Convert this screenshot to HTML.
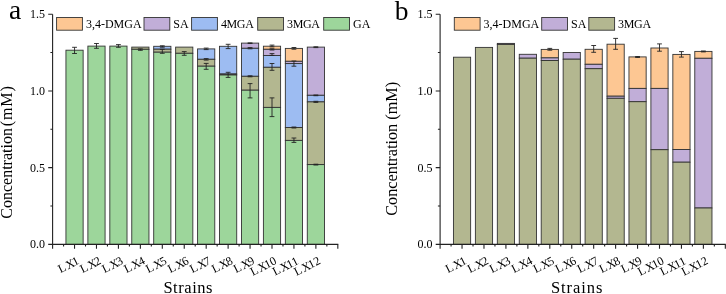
<!DOCTYPE html>
<html><head><meta charset="utf-8"><style>
html,body{margin:0;padding:0;background:#fff;}
body{width:726px;height:294px;overflow:hidden;}
svg{display:block;will-change:transform;}
text{font-family:"Liberation Serif",serif;fill:#000;}
</style></head><body>
<svg width="726" height="294" viewBox="0 0 726 294">
<rect x="65.94" y="50.20" width="17.20" height="194.20" fill="#9dd69b" stroke="#333333" stroke-width="0.9"/>
<path d="M72.14 47.30H76.94M74.54 47.30V53.50M72.14 53.50H76.94" stroke="#222" stroke-width="0.9" fill="none"/>
<rect x="87.88" y="46.10" width="17.20" height="198.30" fill="#9dd69b" stroke="#333333" stroke-width="0.9"/>
<path d="M94.08 43.50H98.88M96.48 43.50V48.30M94.08 48.30H98.88" stroke="#222" stroke-width="0.9" fill="none"/>
<rect x="109.82" y="46.10" width="17.20" height="198.30" fill="#9dd69b" stroke="#333333" stroke-width="0.9"/>
<path d="M116.02 44.60H120.82M118.42 44.60V47.30M116.02 47.30H120.82" stroke="#222" stroke-width="0.9" fill="none"/>
<rect x="131.76" y="47.10" width="17.20" height="2.20" fill="#b3b790" stroke="#333333" stroke-width="0.9"/>
<rect x="131.76" y="49.30" width="17.20" height="195.10" fill="#9dd69b" stroke="#333333" stroke-width="0.9"/>
<path d="M137.96 48.90H142.76M140.36 48.90V50.30M137.96 50.30H142.76" stroke="#222" stroke-width="0.9" fill="none"/>
<rect x="153.70" y="46.30" width="17.20" height="2.90" fill="#9dbcf2" stroke="#333333" stroke-width="0.9"/>
<rect x="153.70" y="49.20" width="17.20" height="3.00" fill="#b3b790" stroke="#333333" stroke-width="0.9"/>
<rect x="153.70" y="52.20" width="17.20" height="192.20" fill="#9dd69b" stroke="#333333" stroke-width="0.9"/>
<path d="M159.90 45.80H164.70M162.30 45.80V47.20M159.90 47.20H164.70" stroke="#222" stroke-width="0.9" fill="none"/>
<path d="M159.90 49.30H164.70M162.30 49.30V53.30M159.90 53.30H164.70" stroke="#222" stroke-width="0.9" fill="none"/>
<rect x="175.64" y="47.10" width="17.20" height="6.20" fill="#b3b790" stroke="#333333" stroke-width="0.9"/>
<rect x="175.64" y="53.30" width="17.20" height="191.10" fill="#9dd69b" stroke="#333333" stroke-width="0.9"/>
<path d="M181.84 51.60H186.64M184.24 51.60V55.30M181.84 55.30H186.64" stroke="#222" stroke-width="0.9" fill="none"/>
<rect x="197.58" y="48.90" width="17.20" height="10.40" fill="#9dbcf2" stroke="#333333" stroke-width="0.9"/>
<rect x="197.58" y="59.30" width="17.20" height="6.90" fill="#b3b790" stroke="#333333" stroke-width="0.9"/>
<rect x="197.58" y="66.20" width="17.20" height="178.20" fill="#9dd69b" stroke="#333333" stroke-width="0.9"/>
<path d="M203.78 48.10H208.58M206.18 48.10V49.60M203.78 49.60H208.58" stroke="#222" stroke-width="0.9" fill="none"/>
<path d="M203.78 58.60H208.58M206.18 58.60V60.10M203.78 60.10H208.58" stroke="#222" stroke-width="0.9" fill="none"/>
<path d="M203.78 63.40H208.58M206.18 63.40V69.30M203.78 69.30H208.58" stroke="#222" stroke-width="0.9" fill="none"/>
<rect x="219.52" y="46.30" width="17.20" height="27.70" fill="#9dbcf2" stroke="#333333" stroke-width="0.9"/>
<rect x="219.52" y="74.00" width="17.20" height="1.00" fill="#b3b790" stroke="#333333" stroke-width="0.9"/>
<rect x="219.52" y="75.00" width="17.20" height="169.40" fill="#9dd69b" stroke="#333333" stroke-width="0.9"/>
<path d="M225.72 44.30H230.52M228.12 44.30V48.60M225.72 48.60H230.52" stroke="#222" stroke-width="0.9" fill="none"/>
<path d="M225.72 72.30H230.52M228.12 72.30V77.40M225.72 77.40H230.52" stroke="#222" stroke-width="0.9" fill="none"/>
<rect x="241.46" y="43.10" width="17.20" height="5.20" fill="#c1aed8" stroke="#333333" stroke-width="0.9"/>
<rect x="241.46" y="48.30" width="17.20" height="28.00" fill="#9dbcf2" stroke="#333333" stroke-width="0.9"/>
<rect x="241.46" y="76.30" width="17.20" height="13.90" fill="#b3b790" stroke="#333333" stroke-width="0.9"/>
<rect x="241.46" y="90.20" width="17.20" height="154.20" fill="#9dd69b" stroke="#333333" stroke-width="0.9"/>
<path d="M247.66 42.90H252.46M250.06 42.90V43.50M247.66 43.50H252.46" stroke="#222" stroke-width="0.9" fill="none"/>
<path d="M247.66 47.60H252.46M250.06 47.60V48.80M247.66 48.80H252.46" stroke="#222" stroke-width="0.9" fill="none"/>
<path d="M247.66 75.80H252.46M250.06 75.80V76.80M247.66 76.80H252.46" stroke="#222" stroke-width="0.9" fill="none"/>
<path d="M247.66 83.60H252.46M250.06 83.60V97.90M247.66 97.90H252.46" stroke="#222" stroke-width="0.9" fill="none"/>
<rect x="263.40" y="46.20" width="17.20" height="3.10" fill="#fdc793" stroke="#333333" stroke-width="0.9"/>
<rect x="263.40" y="49.30" width="17.20" height="6.20" fill="#c1aed8" stroke="#333333" stroke-width="0.9"/>
<rect x="263.40" y="55.50" width="17.20" height="11.80" fill="#9dbcf2" stroke="#333333" stroke-width="0.9"/>
<rect x="263.40" y="67.30" width="17.20" height="40.10" fill="#b3b790" stroke="#333333" stroke-width="0.9"/>
<rect x="263.40" y="107.40" width="17.20" height="137.00" fill="#9dd69b" stroke="#333333" stroke-width="0.9"/>
<path d="M269.60 45.10H274.40M272.00 45.10V46.90M269.60 46.90H274.40" stroke="#222" stroke-width="0.9" fill="none"/>
<path d="M269.60 48.80H274.40M272.00 48.80V50.00M269.60 50.00H274.40" stroke="#222" stroke-width="0.9" fill="none"/>
<path d="M269.60 53.60H274.40M272.00 53.60V55.40M269.60 55.40H274.40" stroke="#222" stroke-width="0.9" fill="none"/>
<path d="M269.60 63.50H274.40M272.00 63.50V70.30M269.60 70.30H274.40" stroke="#222" stroke-width="0.9" fill="none"/>
<path d="M269.60 97.90H274.40M272.00 97.90V116.60M269.60 116.60H274.40" stroke="#222" stroke-width="0.9" fill="none"/>
<rect x="285.34" y="48.40" width="17.20" height="12.90" fill="#fdc793" stroke="#333333" stroke-width="0.9"/>
<rect x="285.34" y="61.30" width="17.20" height="2.30" fill="#c1aed8" stroke="#333333" stroke-width="0.9"/>
<rect x="285.34" y="63.60" width="17.20" height="63.90" fill="#9dbcf2" stroke="#333333" stroke-width="0.9"/>
<rect x="285.34" y="127.50" width="17.20" height="12.90" fill="#b3b790" stroke="#333333" stroke-width="0.9"/>
<rect x="285.34" y="140.40" width="17.20" height="104.00" fill="#9dd69b" stroke="#333333" stroke-width="0.9"/>
<path d="M291.54 47.50H296.34M293.94 47.50V49.20M291.54 49.20H296.34" stroke="#222" stroke-width="0.9" fill="none"/>
<path d="M291.54 61.00H296.34M293.94 61.00V66.20M291.54 66.20H296.34" stroke="#222" stroke-width="0.9" fill="none"/>
<path d="M291.54 127.00H296.34M293.94 127.00V128.00M291.54 128.00H296.34" stroke="#222" stroke-width="0.9" fill="none"/>
<path d="M291.54 138.00H296.34M293.94 138.00V142.40M291.54 142.40H296.34" stroke="#222" stroke-width="0.9" fill="none"/>
<rect x="307.28" y="47.10" width="17.20" height="48.20" fill="#c1aed8" stroke="#333333" stroke-width="0.9"/>
<rect x="307.28" y="95.30" width="17.20" height="6.60" fill="#9dbcf2" stroke="#333333" stroke-width="0.9"/>
<rect x="307.28" y="101.90" width="17.20" height="62.70" fill="#b3b790" stroke="#333333" stroke-width="0.9"/>
<rect x="307.28" y="164.60" width="17.20" height="79.80" fill="#9dd69b" stroke="#333333" stroke-width="0.9"/>
<path d="M313.48 46.80H318.28M315.88 46.80V47.60M313.48 47.60H318.28" stroke="#222" stroke-width="0.9" fill="none"/>
<path d="M313.48 95.00H318.28M315.88 95.00V95.70M313.48 95.70H318.28" stroke="#222" stroke-width="0.9" fill="none"/>
<path d="M313.48 101.30H318.28M315.88 101.30V102.40M313.48 102.40H318.28" stroke="#222" stroke-width="0.9" fill="none"/>
<path d="M313.48 164.20H318.28M315.88 164.20V165.00M313.48 165.00H318.28" stroke="#222" stroke-width="0.9" fill="none"/>
<path d="M52.60 14.2V248.7M52.10 244.4H338.32" stroke="#222222" stroke-width="1.1" fill="none"/>
<path d="M48.20 244.40H52.60M48.20 167.67H52.60M48.20 90.93H52.60M48.20 14.20H52.60M50.40 206.03H52.60M50.40 129.30H52.60M50.40 52.56H52.60M74.54 244.4V248.7M96.48 244.4V248.7M118.42 244.4V248.7M140.36 244.4V248.7M162.30 244.4V248.7M184.24 244.4V248.7M206.18 244.4V248.7M228.12 244.4V248.7M250.06 244.4V248.7M272.00 244.4V248.7M293.94 244.4V248.7M315.88 244.4V248.7M337.82 244.4V248.7M63.57 244.4V246.6M85.51 244.4V246.6M107.45 244.4V246.6M129.39 244.4V246.6M151.33 244.4V246.6M173.27 244.4V246.6M195.21 244.4V246.6M217.15 244.4V246.6M239.09 244.4V246.6M261.03 244.4V246.6M282.97 244.4V246.6M304.91 244.4V246.6M326.85 244.4V246.6" stroke="#222222" stroke-width="1.1" fill="none"/>
<text x="45.00" y="248.30" text-anchor="end" font-size="12">0.0</text>
<text x="45.00" y="171.57" text-anchor="end" font-size="12">0.5</text>
<text x="45.00" y="94.83" text-anchor="end" font-size="12">1.0</text>
<text x="45.00" y="18.10" text-anchor="end" font-size="12">1.5</text>
<text transform="translate(79.94 263.4) rotate(-27)" text-anchor="end" font-size="12">L<tspan dx="1.0">X</tspan><tspan dx="-1.3">1</tspan></text>
<text transform="translate(101.88 263.4) rotate(-27)" text-anchor="end" font-size="12">L<tspan dx="1.0">X</tspan><tspan dx="-1.3">2</tspan></text>
<text transform="translate(123.82 263.4) rotate(-27)" text-anchor="end" font-size="12">L<tspan dx="1.0">X</tspan><tspan dx="-1.3">3</tspan></text>
<text transform="translate(145.76 263.4) rotate(-27)" text-anchor="end" font-size="12">L<tspan dx="1.0">X</tspan><tspan dx="-1.3">4</tspan></text>
<text transform="translate(167.70 263.4) rotate(-27)" text-anchor="end" font-size="12">L<tspan dx="1.0">X</tspan><tspan dx="-1.3">5</tspan></text>
<text transform="translate(189.64 263.4) rotate(-27)" text-anchor="end" font-size="12">L<tspan dx="1.0">X</tspan><tspan dx="-1.3">6</tspan></text>
<text transform="translate(211.58 263.4) rotate(-27)" text-anchor="end" font-size="12">L<tspan dx="1.0">X</tspan><tspan dx="-1.3">7</tspan></text>
<text transform="translate(233.52 263.4) rotate(-27)" text-anchor="end" font-size="12">L<tspan dx="1.0">X</tspan><tspan dx="-1.3">8</tspan></text>
<text transform="translate(255.46 263.4) rotate(-27)" text-anchor="end" font-size="12">L<tspan dx="1.0">X</tspan><tspan dx="-1.3">9</tspan></text>
<text transform="translate(277.40 263.4) rotate(-27)" text-anchor="end" font-size="12">L<tspan dx="1.0">X</tspan><tspan dx="-1.3">10</tspan></text>
<text transform="translate(299.34 263.4) rotate(-27)" text-anchor="end" font-size="12">L<tspan dx="1.0">X</tspan><tspan dx="-1.3">11</tspan></text>
<text transform="translate(321.28 263.4) rotate(-27)" text-anchor="end" font-size="12">L<tspan dx="1.0">X</tspan><tspan dx="-1.3">12</tspan></text>
<rect x="56.60" y="17.5" width="25.8" height="12.7" fill="#fdc793" stroke="#333333" stroke-width="0.9"/>
<text x="85.90" y="27.9" font-size="12" letter-spacing="0">3,4-DMGA</text>
<rect x="144.00" y="17.5" width="25.8" height="12.7" fill="#c1aed8" stroke="#333333" stroke-width="0.9"/>
<text x="173.30" y="27.9" font-size="12" letter-spacing="0">SA</text>
<rect x="191.60" y="17.5" width="25.8" height="12.7" fill="#9dbcf2" stroke="#333333" stroke-width="0.9"/>
<text x="220.90" y="27.9" font-size="12" letter-spacing="-0.35">4MGA</text>
<rect x="257.70" y="17.5" width="25.8" height="12.7" fill="#b3b790" stroke="#333333" stroke-width="0.9"/>
<text x="287.00" y="27.9" font-size="12" letter-spacing="-0.35">3MGA</text>
<rect x="323.70" y="17.5" width="25.8" height="12.7" fill="#9dd69b" stroke="#333333" stroke-width="0.9"/>
<text x="353.00" y="27.9" font-size="12" letter-spacing="0">GA</text>
<text x="9.0" y="19.2" font-size="27.5">a</text>
<text x="163.4" y="293.2" font-size="16.5" letter-spacing="0.55">Strains</text>
<rect x="453.44" y="57.20" width="17.20" height="187.20" fill="#b3b790" stroke="#333333" stroke-width="0.9"/>
<rect x="475.38" y="47.40" width="17.20" height="197.00" fill="#b3b790" stroke="#333333" stroke-width="0.9"/>
<rect x="497.32" y="43.40" width="17.20" height="1.00" fill="#c1aed8" stroke="#333333" stroke-width="0.9"/>
<rect x="497.32" y="44.40" width="17.20" height="200.00" fill="#b3b790" stroke="#333333" stroke-width="0.9"/>
<rect x="519.26" y="54.30" width="17.20" height="3.90" fill="#c1aed8" stroke="#333333" stroke-width="0.9"/>
<rect x="519.26" y="58.20" width="17.20" height="186.20" fill="#b3b790" stroke="#333333" stroke-width="0.9"/>
<rect x="541.20" y="49.40" width="17.20" height="8.50" fill="#fdc793" stroke="#333333" stroke-width="0.9"/>
<rect x="541.20" y="57.90" width="17.20" height="2.60" fill="#c1aed8" stroke="#333333" stroke-width="0.9"/>
<rect x="541.20" y="60.50" width="17.20" height="183.90" fill="#b3b790" stroke="#333333" stroke-width="0.9"/>
<path d="M547.40 48.40H552.20M549.80 48.40V50.20M547.40 50.20H552.20" stroke="#222" stroke-width="0.9" fill="none"/>
<rect x="563.14" y="52.50" width="17.20" height="6.70" fill="#c1aed8" stroke="#333333" stroke-width="0.9"/>
<rect x="563.14" y="59.20" width="17.20" height="185.20" fill="#b3b790" stroke="#333333" stroke-width="0.9"/>
<rect x="585.08" y="49.30" width="17.20" height="15.00" fill="#fdc793" stroke="#333333" stroke-width="0.9"/>
<rect x="585.08" y="64.30" width="17.20" height="4.40" fill="#c1aed8" stroke="#333333" stroke-width="0.9"/>
<rect x="585.08" y="68.70" width="17.20" height="175.70" fill="#b3b790" stroke="#333333" stroke-width="0.9"/>
<path d="M591.28 45.50H596.08M593.68 45.50V52.30M591.28 52.30H596.08" stroke="#222" stroke-width="0.9" fill="none"/>
<rect x="607.02" y="44.20" width="17.20" height="52.00" fill="#fdc793" stroke="#333333" stroke-width="0.9"/>
<rect x="607.02" y="96.20" width="17.20" height="2.10" fill="#c1aed8" stroke="#333333" stroke-width="0.9"/>
<rect x="607.02" y="98.30" width="17.20" height="146.10" fill="#b3b790" stroke="#333333" stroke-width="0.9"/>
<path d="M613.22 38.40H618.02M615.62 38.40V49.30M613.22 49.30H618.02" stroke="#222" stroke-width="0.9" fill="none"/>
<rect x="628.96" y="56.90" width="17.20" height="31.50" fill="#fdc793" stroke="#333333" stroke-width="0.9"/>
<rect x="628.96" y="88.40" width="17.20" height="13.30" fill="#c1aed8" stroke="#333333" stroke-width="0.9"/>
<rect x="628.96" y="101.70" width="17.20" height="142.70" fill="#b3b790" stroke="#333333" stroke-width="0.9"/>
<path d="M635.16 56.50H639.96M637.56 56.50V57.50M635.16 57.50H639.96" stroke="#222" stroke-width="0.9" fill="none"/>
<rect x="650.90" y="48.00" width="17.20" height="40.40" fill="#fdc793" stroke="#333333" stroke-width="0.9"/>
<rect x="650.90" y="88.40" width="17.20" height="61.30" fill="#c1aed8" stroke="#333333" stroke-width="0.9"/>
<rect x="650.90" y="149.70" width="17.20" height="94.70" fill="#b3b790" stroke="#333333" stroke-width="0.9"/>
<path d="M657.10 43.90H661.90M659.50 43.90V51.20M657.10 51.20H661.90" stroke="#222" stroke-width="0.9" fill="none"/>
<rect x="672.84" y="54.40" width="17.20" height="95.10" fill="#fdc793" stroke="#333333" stroke-width="0.9"/>
<rect x="672.84" y="149.50" width="17.20" height="12.70" fill="#c1aed8" stroke="#333333" stroke-width="0.9"/>
<rect x="672.84" y="162.20" width="17.20" height="82.20" fill="#b3b790" stroke="#333333" stroke-width="0.9"/>
<path d="M679.04 51.60H683.84M681.44 51.60V57.10M679.04 57.10H683.84" stroke="#222" stroke-width="0.9" fill="none"/>
<rect x="694.78" y="51.40" width="17.20" height="6.90" fill="#fdc793" stroke="#333333" stroke-width="0.9"/>
<rect x="694.78" y="58.30" width="17.20" height="149.70" fill="#c1aed8" stroke="#333333" stroke-width="0.9"/>
<rect x="694.78" y="208.00" width="17.20" height="36.40" fill="#b3b790" stroke="#333333" stroke-width="0.9"/>
<path d="M700.98 51.00H705.78M703.38 51.00V51.90M700.98 51.90H705.78" stroke="#222" stroke-width="0.9" fill="none"/>
<path d="M440.10 14.2V248.7M439.60 244.4H725.82" stroke="#222222" stroke-width="1.1" fill="none"/>
<path d="M435.70 244.40H440.10M435.70 167.67H440.10M435.70 90.93H440.10M435.70 14.20H440.10M437.90 206.03H440.10M437.90 129.30H440.10M437.90 52.56H440.10M462.04 244.4V248.7M483.98 244.4V248.7M505.92 244.4V248.7M527.86 244.4V248.7M549.80 244.4V248.7M571.74 244.4V248.7M593.68 244.4V248.7M615.62 244.4V248.7M637.56 244.4V248.7M659.50 244.4V248.7M681.44 244.4V248.7M703.38 244.4V248.7M725.32 244.4V248.7M451.07 244.4V246.6M473.01 244.4V246.6M494.95 244.4V246.6M516.89 244.4V246.6M538.83 244.4V246.6M560.77 244.4V246.6M582.71 244.4V246.6M604.65 244.4V246.6M626.59 244.4V246.6M648.53 244.4V246.6M670.47 244.4V246.6M692.41 244.4V246.6M714.35 244.4V246.6" stroke="#222222" stroke-width="1.1" fill="none"/>
<text x="432.50" y="248.30" text-anchor="end" font-size="12">0.0</text>
<text x="432.50" y="171.57" text-anchor="end" font-size="12">0.5</text>
<text x="432.50" y="94.83" text-anchor="end" font-size="12">1.0</text>
<text x="432.50" y="18.10" text-anchor="end" font-size="12">1.5</text>
<text transform="translate(467.44 263.4) rotate(-27)" text-anchor="end" font-size="12">L<tspan dx="1.0">X</tspan><tspan dx="-1.3">1</tspan></text>
<text transform="translate(489.38 263.4) rotate(-27)" text-anchor="end" font-size="12">L<tspan dx="1.0">X</tspan><tspan dx="-1.3">2</tspan></text>
<text transform="translate(511.32 263.4) rotate(-27)" text-anchor="end" font-size="12">L<tspan dx="1.0">X</tspan><tspan dx="-1.3">3</tspan></text>
<text transform="translate(533.26 263.4) rotate(-27)" text-anchor="end" font-size="12">L<tspan dx="1.0">X</tspan><tspan dx="-1.3">4</tspan></text>
<text transform="translate(555.20 263.4) rotate(-27)" text-anchor="end" font-size="12">L<tspan dx="1.0">X</tspan><tspan dx="-1.3">5</tspan></text>
<text transform="translate(577.14 263.4) rotate(-27)" text-anchor="end" font-size="12">L<tspan dx="1.0">X</tspan><tspan dx="-1.3">6</tspan></text>
<text transform="translate(599.08 263.4) rotate(-27)" text-anchor="end" font-size="12">L<tspan dx="1.0">X</tspan><tspan dx="-1.3">7</tspan></text>
<text transform="translate(621.02 263.4) rotate(-27)" text-anchor="end" font-size="12">L<tspan dx="1.0">X</tspan><tspan dx="-1.3">8</tspan></text>
<text transform="translate(642.96 263.4) rotate(-27)" text-anchor="end" font-size="12">L<tspan dx="1.0">X</tspan><tspan dx="-1.3">9</tspan></text>
<text transform="translate(664.90 263.4) rotate(-27)" text-anchor="end" font-size="12">L<tspan dx="1.0">X</tspan><tspan dx="-1.3">10</tspan></text>
<text transform="translate(686.84 263.4) rotate(-27)" text-anchor="end" font-size="12">L<tspan dx="1.0">X</tspan><tspan dx="-1.3">11</tspan></text>
<text transform="translate(708.78 263.4) rotate(-27)" text-anchor="end" font-size="12">L<tspan dx="1.0">X</tspan><tspan dx="-1.3">12</tspan></text>
<rect x="454.30" y="17.5" width="25.8" height="12.7" fill="#fdc793" stroke="#333333" stroke-width="0.9"/>
<text x="483.60" y="27.9" font-size="12" letter-spacing="0">3,4-DMGA</text>
<rect x="541.70" y="17.5" width="25.8" height="12.7" fill="#c1aed8" stroke="#333333" stroke-width="0.9"/>
<text x="571.00" y="27.9" font-size="12" letter-spacing="0">SA</text>
<rect x="588.80" y="17.5" width="25.8" height="12.7" fill="#b3b790" stroke="#333333" stroke-width="0.9"/>
<text x="618.10" y="27.9" font-size="12" letter-spacing="-0.35">3MGA</text>
<text x="394.8" y="19.7" font-size="27.5">b</text>
<text x="550.9" y="293.2" font-size="16.5" letter-spacing="0.95">Strains</text>
<text transform="translate(11.6 218.8) rotate(-90)" font-size="16.05">Concentration<tspan dx="1.8" letter-spacing="0.75" font-size="16.2">(mM)</tspan></text>
<text transform="translate(396.6 148.8) rotate(-90)" text-anchor="middle" font-size="16.25">Concentration (mM)</text>
</svg>
</body></html>
